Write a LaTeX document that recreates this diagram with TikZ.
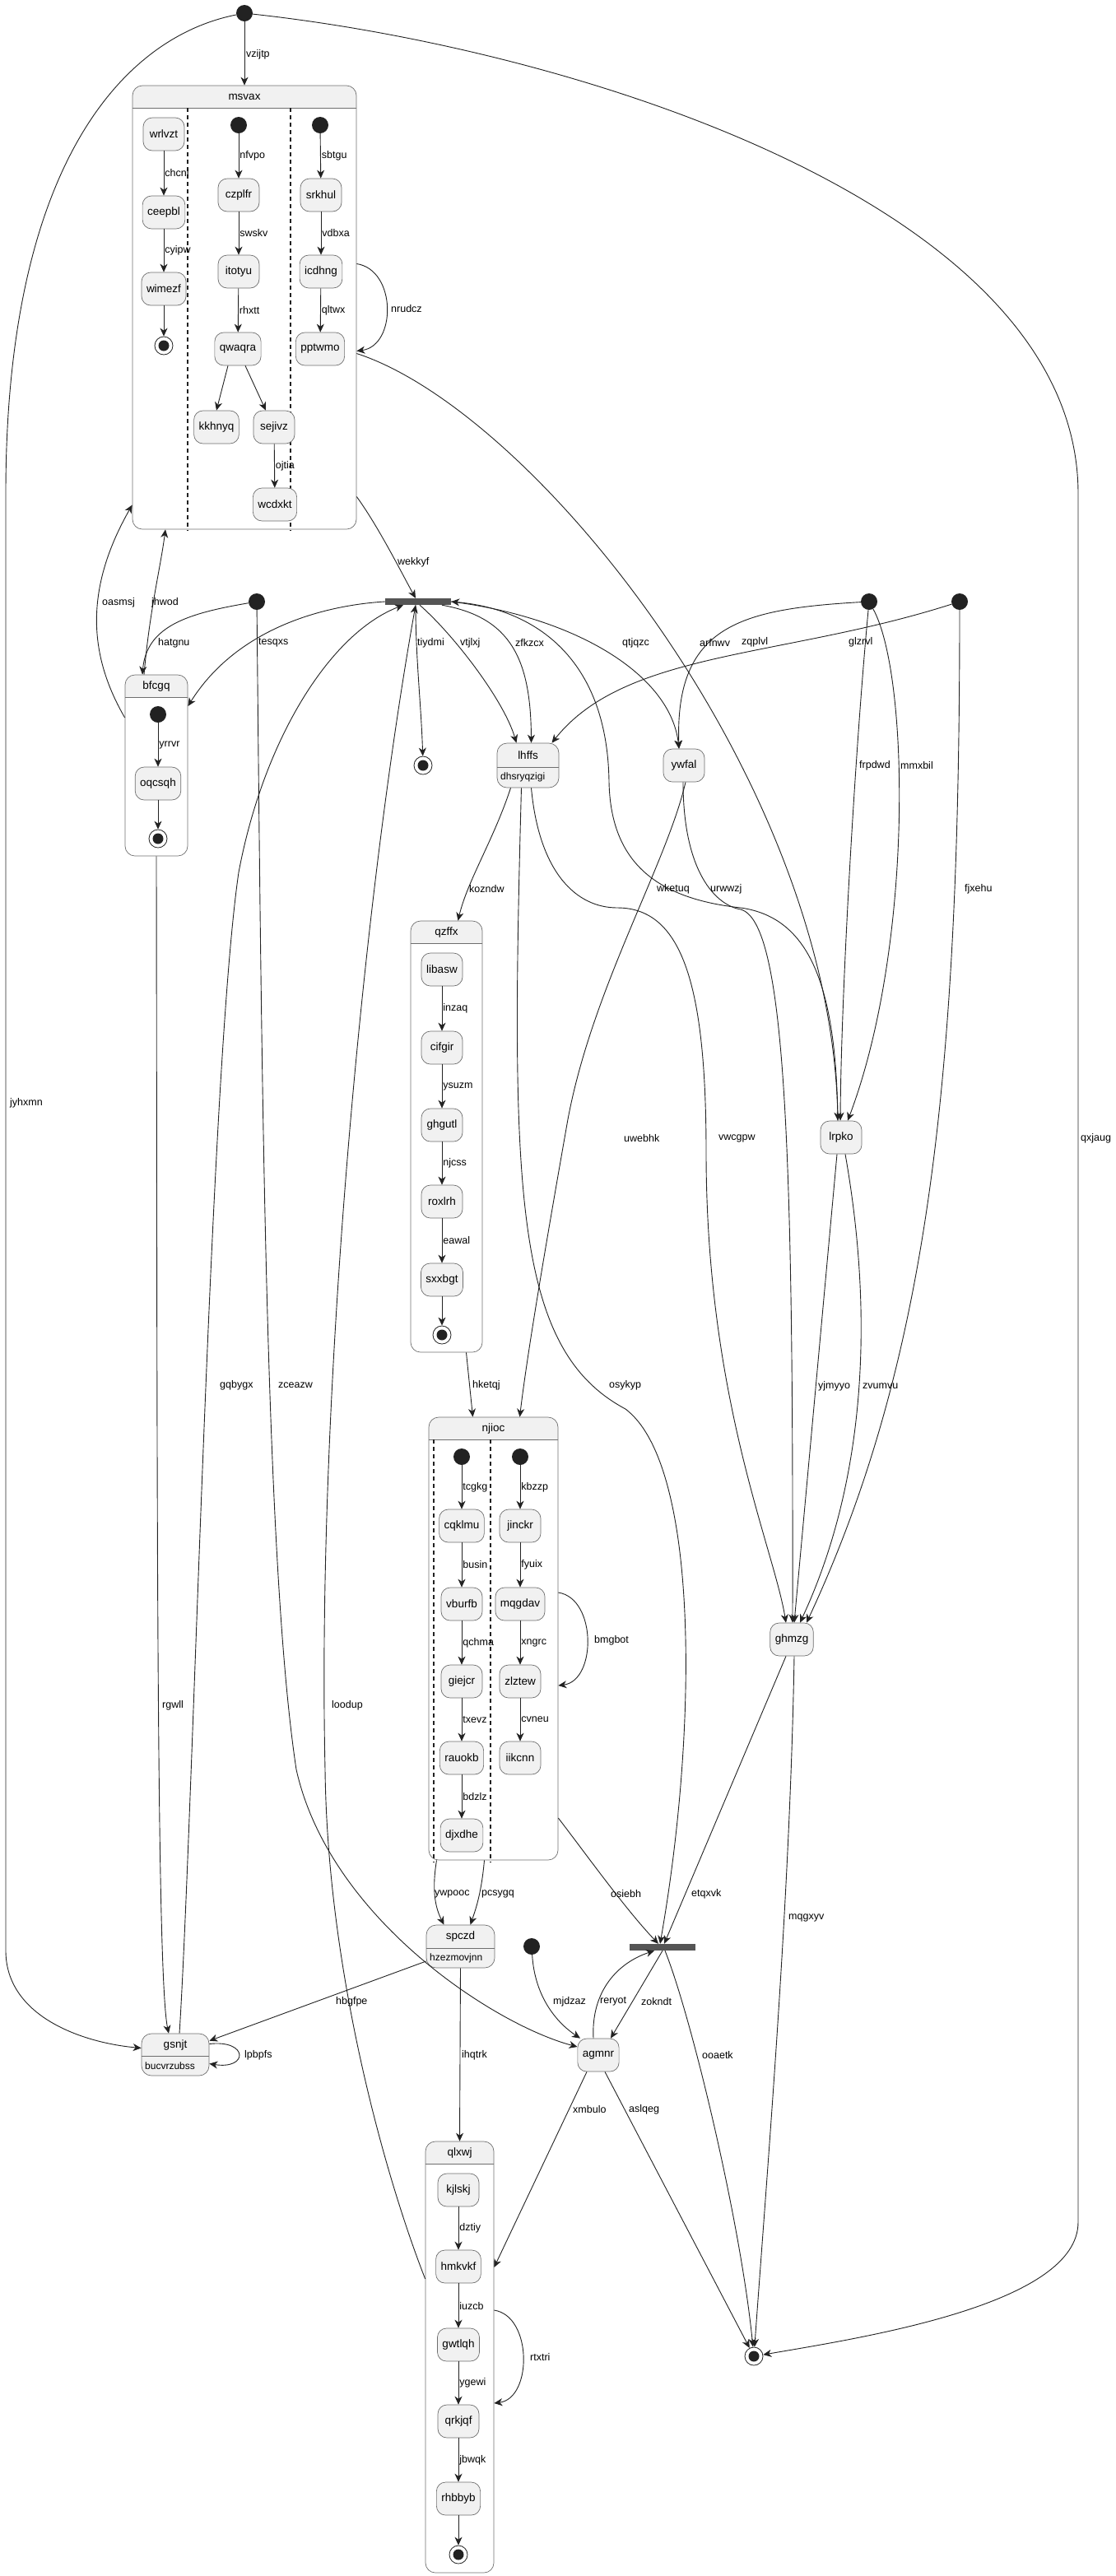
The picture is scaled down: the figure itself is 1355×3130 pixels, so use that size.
\documentclass[tikz,border=0pt]{standalone}
\usepackage{fontspec}
\setmainfont{Liberation Sans}
\usetikzlibrary{arrows.meta}
\definecolor{stfill}{HTML}{F1F1F1}
\definecolor{bordcol}{HTML}{6E6E6E}
\definecolor{inkcol}{HTML}{222222}
\definecolor{barcol}{HTML}{555555}
\tikzset{
  st/.style={draw=bordcol, fill=stfill, rounded corners=11pt, minimum width=50pt, minimum height=40pt, inner xsep=6pt, line width=0.7pt, font=\fontsize{13.5}{16}\selectfont},
  compbox/.style={draw=bordcol, rounded corners=12pt, inner sep=0pt, line width=0.7pt},
  descbox/.style={draw=bordcol, fill=stfill, rounded corners=12pt, inner sep=0pt, line width=0.7pt},
  stxt/.style={inner sep=0pt, font=\fontsize{13.5}{16}\selectfont},
  dtxt/.style={inner sep=0pt, font=\fontsize{12}{14}\selectfont},
  lbl/.style={inner sep=1pt, font=\fontsize{12.5}{15}\selectfont},
  ini/.style={circle, fill=inkcol, minimum size=20pt, inner sep=0pt},
  endst/.style={circle, draw=inkcol, fill=white, minimum size=22pt, inner sep=0pt, line width=0.8pt,
    path picture={\fill[inkcol] (path picture bounding box.center) circle (6.5pt);}},
  barst/.style={rectangle, fill=barcol, minimum width=80pt, minimum height=8pt, inner sep=0pt},
  trans/.style={draw=inkcol, line width=0.9pt, -{Stealth[length=10pt,width=9pt,inset=3pt]}},
  sep/.style={draw=inkcol, line width=1.3pt, dash pattern=on 5pt off 4pt},
}
\begin{document}
\begin{tikzpicture}[x=1pt,y=-1pt]
\useasboundingbox (0,0) rectangle (1355,3130);
% composite states
\foreach \n/\xa/\ya/\xb/\yb in {msvax/161/104/433/643, bfcgq/152/820/228/1040, qzffx/499/1119/586/1643, njioc/521/1722/678/2260, qlxwj/517/2602/600/3126}{
  \pgfmathsetmacro\w{\xb-\xa}
  \pgfmathsetmacro\h{\yb-\ya}
  \begin{scope}
    \clip (\xa,\ya) rectangle (\xb,\ya+27);
    \fill[stfill, rounded corners=12pt] (\xa,\ya) rectangle (\xb,\yb);
  \end{scope}
  \node[compbox, minimum width=\w pt, minimum height=\h pt] (\n) at ({(\xa+\xb)/2},{(\ya+\yb)/2}) {};
  \draw[bordcol, line width=0.7pt] (\xa,\ya+27) -- (\xb,\ya+27);
  \node[stxt] (\n-t) at ({(\xa+\xb)/2},\ya+14) {\n};
}
\foreach \x/\ya/\yb in {228/131/645, 353/131/645, 527/1749/2263, 596/1749/2263}
  \draw[sep] (\x,\ya) -- (\x,\yb);
% states with a description
\foreach \n/\xa/\ya/\xb/\yd/\yb/\d in {lhffs/604/903/679/932/957/dhsryqzigi, spczd/518/2339/601/2367/2391/hzezmovjnn, gsnjt/172/2471/254/2498/2522/bucvrzubss}{
  \pgfmathsetmacro\w{\xb-\xa}
  \pgfmathsetmacro\h{\yb-\ya}
  \node[descbox, minimum width=\w pt, minimum height=\h pt] (\n) at ({(\xa+\xb)/2},{(\ya+\yb)/2}) {};
  \draw[bordcol, line width=0.7pt] (\xa,\yd) -- (\xb,\yd);
  \node[stxt] (\n-t) at ({(\xa+\xb)/2},{(\ya+\yd)/2}) {\n};
  \node[dtxt, anchor=west] (\n-d) at (\xa+4,{(\yd+\yb)/2}) {\d};
}
% simple states
\foreach \n/\x/\y in {wrlvzt/199/163, ceepbl/199/258, wimezf/199/351, czplfr/290/237, itotyu/290/330, qwaqra/289/424, kkhnyq/263/519, sejivz/333/519, wcdxkt/334/613, srkhul/390/237, icdhng/390/330, pptwmo/389/424, oqcsqh/192/952, ywfal/831/930, lrpko/1022/1382, ghmzg/962/1992, agmnr/727/2497, libasw/537/1178, cifgir/537/1273, ghgutl/537/1367, roxlrh/537/1460, sxxbgt/537/1555, cqklmu/561/1854, vburfb/561/1949, giejcr/561/2043, rauokb/561/2136, djxdhe/561/2230, jinckr/632/1854, mqgdav/632/1949, zlztew/632/2043, iikcnn/632/2136, kjlskj/557/2661, hmkvkf/557/2754, gwtlqh/557/2849, qrkjqf/557/2942, rhbbyb/557/3036}
  \node[st] (\n) at (\x,\y) {\n};
\foreach \n/\x/\y in {s0/297/16, s1/312/731, s2/1056/731, s3/1166/731, s4/646/2365, s-ms2/290/152, s-ms3/389/152, s-bf/192/868, s-nj1/561/1770, s-nj2/632/1770}
  \node[ini] (\n) at (\x,\y) {};
\foreach \n/\x/\y in {e-ms/199/420, e-bf/192/1019, e-bar/514/930, e-qz/537/1622, e-ql/557/3104, fin/916/2863}
  \node[endst] (\n) at (\x,\y) {};
\node[barst] (bar1) at (508,731) {};
\node[barst] (bar2) at (805,2366) {};
% inner transitions
\foreach \a/\b/\l in {wrlvzt/ceepbl/chcnl, ceepbl/wimezf/cyipw, s-ms2/czplfr/nfvpo, czplfr/itotyu/swskv, itotyu/qwaqra/rhxtt, sejivz/wcdxkt/ojtia, s-ms3/srkhul/sbtgu, srkhul/icdhng/vdbxa, icdhng/pptwmo/qltwx, s-bf/oqcsqh/yrrvr, libasw/cifgir/inzaq, cifgir/ghgutl/ysuzm, ghgutl/roxlrh/njcss, roxlrh/sxxbgt/eawal, s-nj1/cqklmu/tcgkg, cqklmu/vburfb/busin, vburfb/giejcr/qchma, giejcr/rauokb/txevz, rauokb/djxdhe/bdzlz, s-nj2/jinckr/kbzzp, jinckr/mqgdav/fyuix, mqgdav/zlztew/xngrc, zlztew/iikcnn/cvneu, kjlskj/hmkvkf/dztiy, hmkvkf/gwtlqh/iuzcb, gwtlqh/qrkjqf/ygewi, qrkjqf/rhbbyb/jbwqk}
  \draw[trans] (\a) -- (\b) node[lbl, midway, right] (t-\l) {\l};
\foreach \a/\b in {wimezf/e-ms, oqcsqh/e-bf, sxxbgt/e-qz, rhbbyb/e-ql}
  \draw[trans] (\a) -- (\b);
\draw[trans] ([xshift=-12pt]qwaqra.south) -- (kkhnyq.north);
\draw[trans] ([xshift=9pt]qwaqra.south) -- ([xshift=-10pt]sejivz.north);
% top level transitions
\draw[trans] (s0) -- (msvax.north);
\draw[trans] (s0) .. controls (150,45) and (7,200) .. (7,600) -- (7,2370) .. controls (7,2450) and (100,2482) .. ([yshift=8pt]gsnjt.west);
\draw[trans] (s0) .. controls (700,60) and (1310,250) .. (1310,600) -- (1310,2700) .. controls (1310,2800) and (1050,2840) .. (fin);
\draw[trans] ([yshift=53pt]msvax.east) .. controls (482,328) and (482,420) .. ([yshift=-53pt]msvax.east);
\draw[trans] ([yshift=-230pt]msvax.east) .. controls (460,640) and (490,700) .. ([xshift=-3pt]bar1.north);
\draw[trans] ([yshift=-56pt]msvax.east) .. controls (650,500) and (1010,950) .. ([xshift=-4pt]lrpko.north);
\draw[trans] (s1) .. controls (230,745) and (178,760) .. ([xshift=-17pt]bfcgq.north);
\draw[trans] ([xshift=-15pt]bfcgq.north) .. controls (182,740) and (195,690) .. ([xshift=-96pt]msvax.south);
\draw[trans] ([yshift=58pt]bfcgq.west) .. controls (110,800) and (100,720) .. ([yshift=-240pt]msvax.west);
\draw[trans] (bar1.west) .. controls (400,735) and (290,760) .. ([yshift=72pt]bfcgq.east);
\draw[trans] ([xshift=-3pt]bar1.south) .. controls (505,800) and (512,860) .. (e-bar);
\draw[trans] ([xshift=2pt]bar1.south) .. controls (550,770) and (612,850) .. ([xshift=-14pt]lhffs.north);
\draw[trans] ([xshift=29pt]bar1.south) .. controls (620,750) and (645,800) .. ([xshift=4pt]lhffs.north);
\draw[trans] (bar1.east) .. controls (700,750) and (815,820) .. ([xshift=-6pt]ywfal.north);
\draw[trans] (s2) .. controls (900,740) and (820,760) .. ([xshift=-6pt]ywfal.north);
\draw[trans] (s3) .. controls (950,800) and (760,790) .. ([xshift=29pt]lhffs.north);
\draw[trans] (s2) .. controls (1040,900) and (1022,1200) .. ([xshift=-1pt]lrpko.north);
\draw[trans] (s2) .. controls (1105,820) and (1110,1150) .. ([xshift=8pt]lrpko.north);
\draw[trans] (s3) .. controls (1166,1300) and (1130,1650) .. ([xshift=18pt]ghmzg.north);
\draw[trans] ([xshift=-21pt]lhffs.south) .. controls (600,1020) and (568,1070) .. ([xshift=14pt]qzffx.north);
\draw[trans] ([xshift=24pt]qzffx.south) -- ([xshift=-25pt]njioc.north);
\draw[trans] ([xshift=-8pt]lhffs.south) .. controls (620,1450) and (625,1640) .. (760,1712) .. controls (850,1780) and (848,2100) .. ([xshift=-3pt]bar2.north);
\draw[trans] ([xshift=4pt]lhffs.south) .. controls (655,1060) and (700,1103) .. (750,1103) .. controls (830,1103) and (858,1200) .. (858,1400) .. controls (858,1700) and (940,1880) .. ([xshift=-7pt]ghmzg.north);
\draw[trans] ([xshift=-1pt]ywfal.south) .. controls (830,1060) and (870,1100) .. (900,1105) .. controls (955,1120) and (964,1400) .. ([xshift=1pt]ghmzg.north);
\draw[trans] ([xshift=2pt]ywfal.south) .. controls (810,1050) and (720,1200) .. (690,1360) .. controls (660,1530) and (640,1650) .. ([xshift=32pt]njioc.north);
\draw[trans] ([xshift=-4pt]lrpko.north) .. controls (1016,1200) and (985,1115) .. (900,1103) .. controls (800,1092) and (742,1050) .. (740,950) .. controls (738,800) and (650,740) .. (bar1.east);
\draw[trans] ([xshift=-5pt]lrpko.south) -- ([xshift=3pt]ghmzg.north);
\draw[trans] ([xshift=5pt]lrpko.south) .. controls (1062,1600) and (1052,1800) .. ([xshift=10pt]ghmzg.north);
\draw[trans] ([xshift=-7pt]ghmzg.south) -- ([xshift=2pt]bar2.north);
\draw[trans] ([xshift=3pt]ghmzg.south) .. controls (960,2300) and (935,2600) .. (fin);
\draw[trans] ([yshift=56pt]njioc.east) .. controls (725,1942) and (725,2042) .. ([yshift=-57pt]njioc.east);
\draw[trans] ([yshift=-218pt]njioc.east) .. controls (710,2250) and (760,2320) .. ([xshift=-5pt]bar2.north);
\draw[trans] ([xshift=-69pt]njioc.south) .. controls (524,2300) and (530,2320) .. ([xshift=-20pt]spczd.north);
\draw[trans] ([xshift=-11pt]njioc.south) .. controls (585,2300) and (578,2320) .. ([xshift=12pt]spczd.north);
\draw[trans] (spczd.south) -- (qlxwj.north);
\draw[trans] ([yshift=-18pt]spczd.west) -- ([yshift=-9pt]gsnjt.north east);
\draw[trans] (s4) .. controls (650,2430) and (680,2460) .. ([xshift=-22pt]agmnr.north);
\draw[trans] ([xshift=-6pt]agmnr.north) .. controls (718,2420) and (750,2385) .. ([xshift=-10pt]bar2.south);
\draw[trans] (bar2.south) -- ([xshift=15pt]agmnr.north);
\draw[trans] ([xshift=3pt]bar2.south) .. controls (840,2450) and (900,2700) .. (fin);
\draw[trans] ([xshift=-14pt]agmnr.south) -- ([yshift=109pt]qlxwj.east);
\draw[trans] ([xshift=8pt]agmnr.south) -- (fin);
\draw[trans] ([yshift=57pt]qlxwj.east) .. controls (647,2814) and (647,2914) .. ([yshift=-56pt]qlxwj.east);
\draw[trans] (s1) .. controls (318,1300) and (322,1900) .. (360,2150) .. controls (400,2330) and (600,2460) .. ([yshift=10pt]agmnr.west);
\draw[trans] ([yshift=95pt]qlxwj.west) .. controls (470,2650) and (398,2400) .. (395,2150) .. controls (385,1700) and (440,1100) .. ([xshift=-3pt]bar1.south);
\draw[trans] ([xshift=5pt]gsnjt.north) .. controls (235,2200) and (255,1300) .. (290,1060) .. controls (320,900) and (400,770) .. ([xshift=-18pt]bar1.south);
\draw[trans] (bfcgq.south) .. controls (191,1800) and (190,2400) .. ([xshift=-8pt]gsnjt.north);
\draw[trans] ([yshift=13pt]gsnjt.east) .. controls (302,2478) and (302,2515) .. ([yshift=-11pt]gsnjt.east);
% labels of the top level transitions
\foreach \l/\x/\y in {vzijtp/298/66, jyhxmn/11/1340, qxjaug/1312/1383, nrudcz/474/375, wekkyf/482/683, zqplvl/900/780, oasmsj/123/732, jhwod/183/732, hatgnu/191/781, tesqxs/313/781, tiydmi/506/781, vtjlxj/558/781, zfkzcx/625/781, qtjqzc/755/781, arfnwv/849/781, glzrvl/1030/780, frpdwd/1043/930, mmxbil/1093/930, fjxehu/1171/1080, kozndw/569/1080, wketuq/797/1080, urwwzj/862/1080, uwebhk/757/1383, vwcgpw/872/1383, hketqj/573/1683, osykyp/739/1683, yjmyyo/993/1684, zvumvu/1047/1684, gqbygx/266/1683, zceazw/337/1683, rgwll/196/2072, loodup/402/2072, bmgbot/721/1993, osiebh/741/2301, etqxvk/839/2301, ywpooc/527/2301, pcsygq/584/2301, mqgxyv/957/2330, mjdzaz/671/2432, reryot/728/2432, zokndt/778/2432, ihqtrk/560/2497, ooaetk/852/2497, xmbulo/695/2563, aslqeg/763/2563, hbgfpe/407/2432, lpbpfs/296/2497, rtxtri/643/2864}
  \node[lbl, anchor=west] (t-\l) at (\x,\y) {\l};
\end{tikzpicture}
\end{document}
